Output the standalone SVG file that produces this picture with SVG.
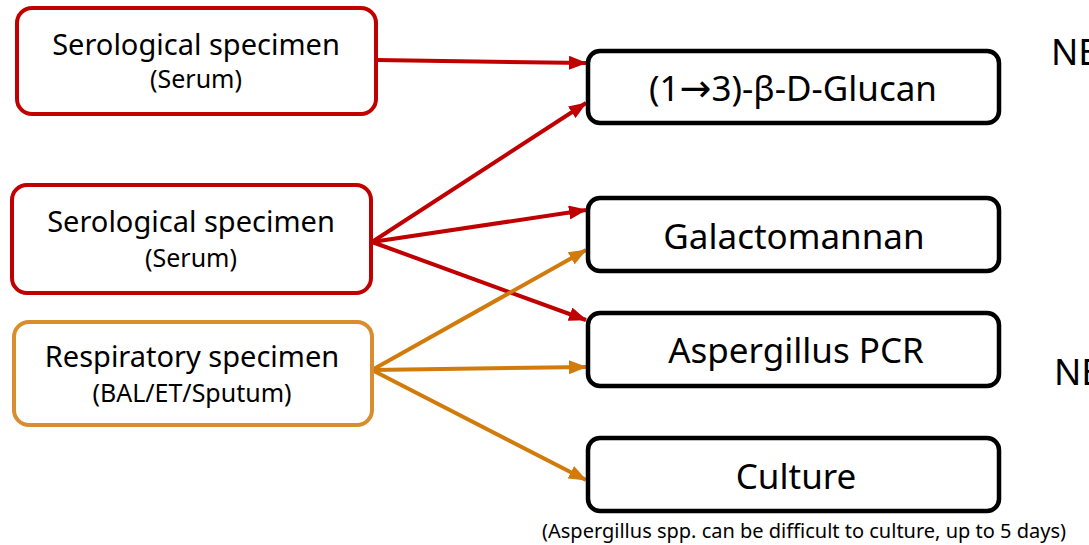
<svg xmlns="http://www.w3.org/2000/svg" width="1089" height="545" viewBox="0 0 1089 545">
  <style>
    text { font-family: "Noto Sans", "Open Sans", sans-serif; fill: #000; text-anchor: middle; }
    .arrow-glyph { font-family: "DejaVu Sans", sans-serif; font-size: 38px; }
    .src-red { fill: #fff; stroke: #C00000; stroke-width: 4; }
    .src-orange { fill: #fff; stroke: #D88D2E; stroke-width: 4; }
    .test { fill: #fff; stroke: #000; stroke-width: 4.5; }
    .main { font-size: 29px; }
    .sub { font-size: 25px; }
    .test-label { font-size: 35px; }
    .note { font-size: 20px; }
    .side { font-size: 36px; text-anchor: start; }
    .red { stroke: #C00000; stroke-width: 4; fill: none; marker-end: url(#head-red); }
    .orange { stroke: #D17B0C; stroke-width: 4; fill: none; marker-end: url(#head-orange); }
  </style>
  <defs>
    <marker id="head-red" markerUnits="userSpaceOnUse" markerWidth="18" markerHeight="14" refX="17" refY="7" orient="auto">
      <path d="M0,0 L18,7 L0,14 Z" fill="#C00000"/>
    </marker>
    <marker id="head-orange" markerUnits="userSpaceOnUse" markerWidth="18" markerHeight="14" refX="17" refY="7" orient="auto">
      <path d="M0,0 L18,7 L0,14 Z" fill="#D17B0C"/>
    </marker>
  </defs>

  <rect width="1089" height="545" fill="#fff"/>

  <!-- connectors -->
  <g id="connectors">
    <line class="red" x1="376" y1="60" x2="586" y2="63"/>
    <line class="red" x1="372" y1="242" x2="586" y2="103"/>
    <line class="red" x1="372" y1="242" x2="586" y2="210"/>
    <line class="red" x1="372" y1="242" x2="586" y2="320"/>
    <line class="orange" x1="372" y1="370" x2="586" y2="250"/>
    <line class="orange" x1="372" y1="370" x2="586" y2="367"/>
    <line class="orange" x1="372" y1="370" x2="586" y2="480"/>
  </g>

  <!-- specimen sources -->
  <g id="serum-1">
    <rect class="src-red" x="17" y="8" width="359" height="106" rx="15"/>
    <text class="main" x="196" y="55">Serological specimen</text>
    <text class="sub" x="196" y="88">(Serum)</text>
  </g>
  <g id="serum-2">
    <rect class="src-red" x="12" y="185" width="359" height="108" rx="15"/>
    <text class="main" x="191" y="232">Serological specimen</text>
    <text class="sub" x="191" y="267">(Serum)</text>
  </g>
  <g id="respiratory">
    <rect class="src-orange" x="14" y="322" width="358" height="103" rx="15"/>
    <text class="main" x="192" y="367">Respiratory specimen</text>
    <text class="sub" x="192" y="402">(BAL/ET/Sputum)</text>
  </g>

  <!-- tests -->
  <g id="glucan">
    <rect class="test" x="588" y="51" width="411" height="72" rx="12"/>
    <text class="test-label" x="793" y="101">(1<tspan class="arrow-glyph">→</tspan>3)-β-D-Glucan</text>
  </g>
  <g id="galactomannan">
    <rect class="test" x="588" y="198" width="411" height="73" rx="12"/>
    <text class="test-label" x="794" y="249">Galactomannan</text>
  </g>
  <g id="pcr">
    <rect class="test" x="588" y="313" width="411" height="73" rx="12"/>
    <text class="test-label" x="796" y="363">Aspergillus PCR</text>
  </g>
  <g id="culture">
    <rect class="test" x="588" y="438" width="411" height="73" rx="12"/>
    <text class="test-label" x="796" y="489">Culture</text>
  </g>
  <text class="note" x="804" y="538">(Aspergillus spp. can be difficult to culture, up to 5 days)</text>

  <!-- side notes running off the right edge -->
  <text class="side" x="1051" y="65">NE</text>
  <text class="side" x="1054" y="385">NE</text>
</svg>
